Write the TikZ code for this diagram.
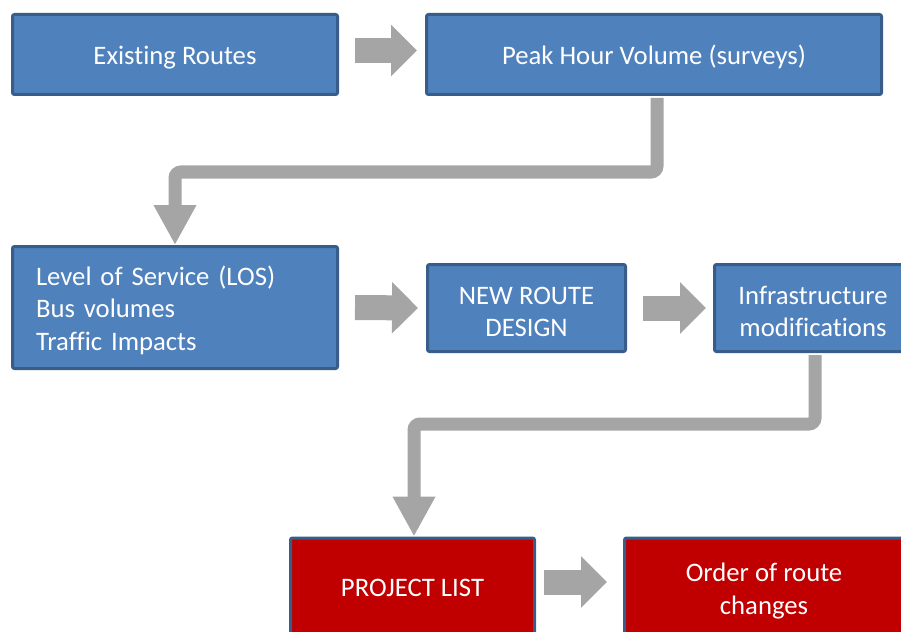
\documentclass[tikz,border=0pt]{standalone}
\usepackage{fontspec}
\setmainfont{Carlito}[Ligatures=NoCommon]
\usepackage{xcolor}
\usepackage{tikz}
\usetikzlibrary{arrows.meta,positioning}
\definecolor{flowblue}{HTML}{4F81BD}
\definecolor{flowedge}{HTML}{385D8A}
\definecolor{flowred}{HTML}{C00000}
\definecolor{flowgray}{HTML}{A5A5A5}
\newcommand{\topstrut}{\rule{0pt}{25pt}}

\begin{document}
\begin{tikzpicture}[
  x=1pt,y=-1pt,
  box/.style={draw=flowedge,line width=3pt,rounded corners=2pt,fill=flowblue,text=white,align=center,inner sep=0pt,font=\fontsize{26.7}{32.5}\selectfont},
  redbox/.style={box,fill=flowred},
  fat/.style={-{Triangle[length=26pt,width=50pt]},line width=25pt,draw=flowgray},
  elbow/.style={-{Triangle[length=40pt,width=40pt]},line width=13pt,draw=flowgray,rounded corners=6pt}
]
\useasboundingbox (0,0) rectangle (901,631);
\clip (0,0) rectangle (901,631);
\node[box,minimum width=325pt,minimum height=80pt] (existing) at (175,54.5) {\topstrut Existing Routes};
\node[box,minimum width=455pt,minimum height=80pt] (peak) at (654,54.5) {\topstrut Peak Hour Volume (surveys)};
\node[box,minimum width=325pt,minimum height=122pt,text width=278pt,align=left] (los) at (175,307.5) {\topstrut Level of Service (LOS)\\Bus volumes\\Traffic Impacts};
\node[box,minimum width=198pt,minimum height=87pt] (design) at (526.5,308) {\topstrut NEW ROUTE\\DESIGN};
\node[box,minimum width=197pt,minimum height=87pt] (infra) at (813,308) {\topstrut Infrastructure\\modifications};
\node[redbox,minimum width=244pt,minimum height=100pt] (projects) at (412.5,588) {PROJECT LIST};
\node[redbox,minimum width=279pt,minimum height=100pt] (order) at (764,588) {\topstrut Order of route\\changes};
\draw[fat] ([shift={(16,-4)}]existing.east) -- ([shift={(-8,-4)}]peak.west);
\draw[elbow] ([shift={(3,2)}]peak.south) -- ++(0,74) -| (los.north);
\draw[fat] ([xshift=16pt]los.east) -- ([xshift=-8pt]design.west);
\draw[fat] ([xshift=16pt]design.east) -- ([xshift=-7pt]infra.west);
\draw[elbow] ([shift={(2,2)}]infra.south) -- ++(0,69) -| ([xshift=1.5pt]projects.north);
\draw[fat] ([shift={(8,-6)}]projects.east) -- ([shift={(-16,-6)}]order.west);
\end{tikzpicture}
\end{document}
